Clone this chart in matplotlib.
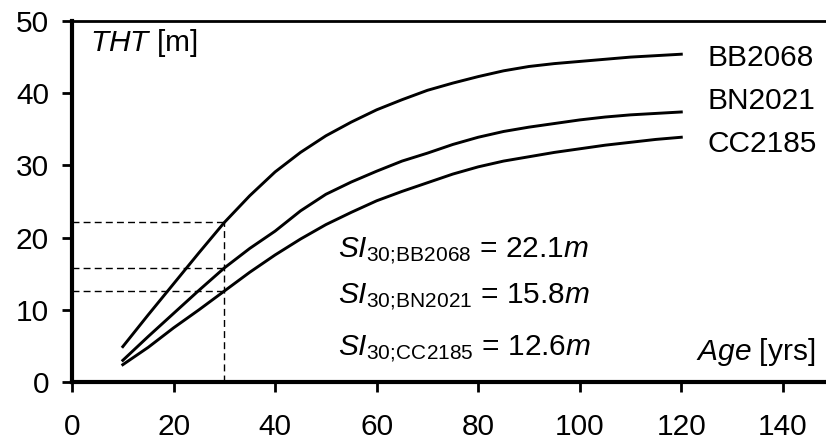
import numpy as np
import matplotlib
matplotlib.use('Agg')
import matplotlib.pyplot as plt

plt.rcParams['font.family'] = ['Liberation Sans', 'DejaVu Sans']
plt.rcParams['mathtext.fontset'] = 'custom'
plt.rcParams['mathtext.rm'] = 'Liberation Sans'
plt.rcParams['mathtext.it'] = 'Liberation Sans:italic'

# stand age [yrs]
age = [10, 15, 20, 25, 30, 35, 40, 45, 50, 55, 60, 65, 70, 75, 80, 85, 90, 95, 100, 105, 110, 115, 120]

# top height [m] per site
bb2068 = [4.9, 9.3, 13.6, 17.9, 22.1, 25.8, 29.1, 31.8, 34.1, 36.0, 37.7, 39.1, 40.4, 41.4, 42.3, 43.1, 43.7, 44.1, 44.4, 44.7, 45.0, 45.2, 45.4]
bn2021 = [3.0, 6.3, 9.5, 12.7, 15.8, 18.5, 20.9, 23.7, 26.0, 27.7, 29.2, 30.6, 31.7, 32.9, 33.9, 34.7, 35.3, 35.8, 36.3, 36.7, 37.0, 37.2, 37.4]
cc2185 = [2.4, 4.8, 7.5, 10.0, 12.6, 15.2, 17.6, 19.8, 21.8, 23.5, 25.1, 26.4, 27.6, 28.8, 29.8, 30.6, 31.2, 31.8, 32.3, 32.8, 33.2, 33.6, 33.9]

site_names = ['BB2068', 'BN2021', 'CC2185']
si30 = [22.1, 15.8, 12.6]
ref_age = 30

FS = 21.5

fig = plt.figure(figsize=(8.26, 4.42), dpi=100)
ax = fig.add_axes([0.0872, 0.1357, 1.0 - 0.0872, 0.8168])

for h in [bb2068, bn2021, cc2185]:
    ax.plot(age, h, color='black', lw=2.1, solid_joinstyle='miter')

# dashed guides at reference age
for s in si30:
    ax.plot([0, ref_age], [s, s], color='black', lw=1.0, ls=(0, (5, 3)))
ax.plot([ref_age, ref_age], [0, max(si30)], color='black', lw=1.0, ls=(0, (5, 3)))

# site labels at curve ends
label_y = [44.9, 38.9, 33.0]
for name, y in zip(site_names, label_y):
    ax.text(125.2, y, name, fontsize=FS, va='center', ha='left')

# site index texts (\! cancels mathtext's space after ';')
si_y = [17.2, 10.9, 3.7]
for name, s, y in zip(site_names, si30, si_y):
    ax.text(52.4, y, r'$SI_{30;\!\mathrm{%s}}$ = %.1f$m$' % (name, s),
            fontsize=FS, va='baseline', ha='left')

ax.text(3.5, 46.9, r'$THT$ [m]', fontsize=FS, va='center', ha='left')
ax.text(146.4, 4.1, r'$Age$ [yrs]', fontsize=FS, va='center', ha='right')

ax.set_xlim(0, 148.5)
ax.set_ylim(0, 50)
ax.set_xticks(np.arange(0, 141, 20))
ax.set_yticks(np.arange(0, 51, 10))
ax.spines['right'].set_visible(False)
ax.spines['left'].set_linewidth(3)
ax.spines['bottom'].set_linewidth(3)
ax.spines['top'].set_linewidth(2)
ax.tick_params(axis='both', direction='out', length=7.5, width=2, labelsize=FS)
ax.tick_params(axis='x', pad=15)
ax.tick_params(axis='y', pad=9)

fig.savefig('out.png', dpi=100)
